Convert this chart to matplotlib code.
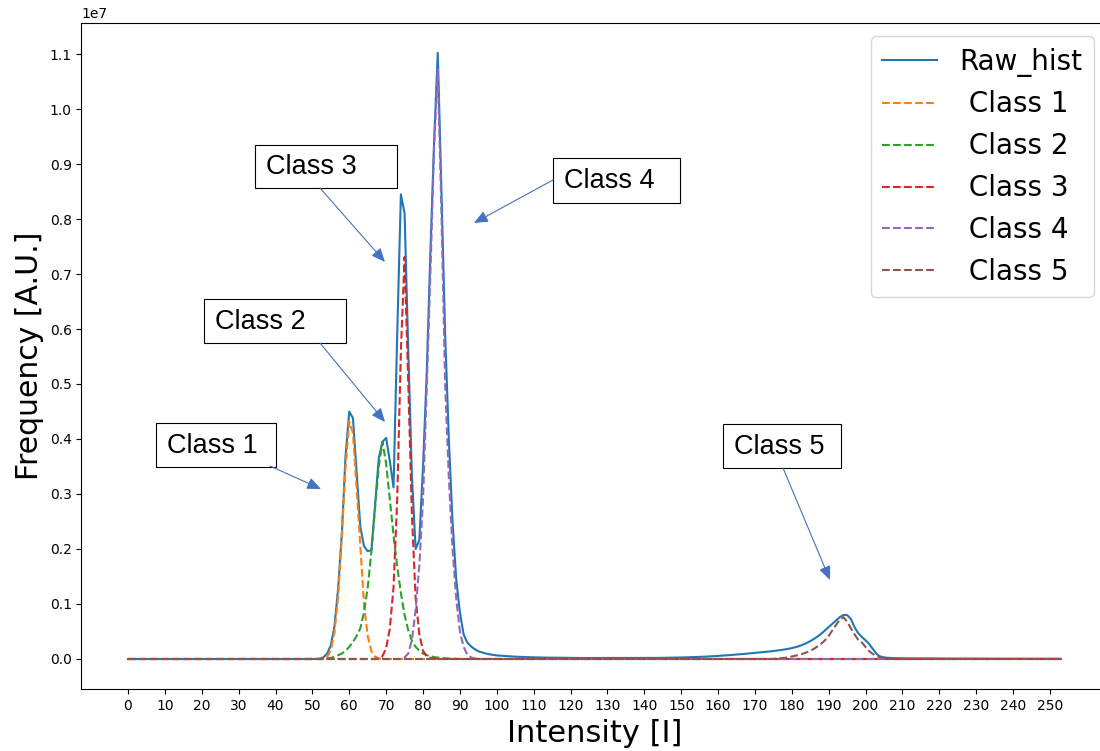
import numpy as np
import matplotlib
matplotlib.use("Agg")
import matplotlib.pyplot as plt
from matplotlib.patches import Rectangle, FancyArrowPatch

# ---------------- data (values in units of 1e6) ----------------
n_bins = 254
intensity = np.arange(n_bins)

raw_start = 50
raw_vals = [
    0.0, 0.0, 0.005, 0.03, 0.1, 0.25, 0.6, 1.3, 2.3, 3.7,          # 50-59
    4.50, 4.38, 3.4, 2.4, 2.05, 1.96, 1.98, 2.8, 3.65, 3.95,        # 60-69
    4.02, 3.6, 3.12, 5.9, 8.45, 8.10, 5.6, 3.3, 2.0, 2.16,          # 70-79
    3.5, 5.2, 7.4, 9.4, 11.02, 8.5, 5.9, 4.0, 2.5, 1.45,            # 80-89
    0.85, 0.45, 0.3, 0.23, 0.18, 0.14, 0.12, 0.1, 0.085, 0.075,     # 90-99
    0.065, 0.06, 0.055, 0.05, 0.046, 0.042, 0.039, 0.036, 0.034, 0.032,  # 100-109
    0.03, 0.028, 0.027, 0.026, 0.025, 0.024, 0.023, 0.022, 0.021, 0.02,  # 110-119
    0.02, 0.019, 0.019, 0.018, 0.018, 0.018, 0.017, 0.017, 0.017, 0.017,  # 120-129
    0.017, 0.017, 0.017, 0.017, 0.017, 0.017, 0.017, 0.017, 0.018, 0.018,  # 130-139
    0.018, 0.018, 0.019, 0.019, 0.02, 0.021, 0.022, 0.023, 0.024, 0.025,  # 140-149
    0.027, 0.029, 0.031, 0.033, 0.035, 0.038, 0.041, 0.044, 0.048, 0.052,  # 150-159
    0.056, 0.06, 0.065, 0.07, 0.075, 0.08, 0.086, 0.092, 0.099, 0.106,  # 160-169
    0.112, 0.118, 0.124, 0.13, 0.137, 0.145, 0.153, 0.162, 0.172, 0.184,  # 170-179
    0.198, 0.215, 0.235, 0.26, 0.29, 0.325, 0.365, 0.41, 0.46, 0.52,  # 180-189
    0.58, 0.64, 0.70, 0.76, 0.80, 0.80, 0.73, 0.58, 0.47, 0.40,     # 190-199
    0.34, 0.27, 0.18, 0.09, 0.045, 0.03, 0.022, 0.018, 0.015, 0.013,  # 200-209
    0.012, 0.011, 0.011, 0.01, 0.01, 0.01, 0.009, 0.009, 0.009, 0.008,  # 210-219
    0.008, 0.008, 0.008, 0.007, 0.007, 0.007, 0.007, 0.006, 0.006, 0.006,  # 220-229
    0.006, 0.006, 0.005, 0.005, 0.005, 0.005, 0.005, 0.005, 0.004, 0.004,  # 230-239
    0.004, 0.004, 0.004, 0.004, 0.004, 0.003, 0.003, 0.003, 0.003, 0.003,  # 240-249
    0.003, 0.003, 0.003, 0.003,                                     # 250-253
]

class1_start = 52
class1_vals = [0.0, 0.01, 0.04, 0.16, 0.49, 1.15, 2.25, 3.5, 4.32, 4.1,
               3.1, 2.05, 1.0, 0.42, 0.14, 0.04, 0.01]

class2_start = 54
class2_vals = [0.01, 0.02, 0.04, 0.07, 0.1, 0.15, 0.22, 0.31, 0.42, 0.56,
               0.85, 1.3, 1.95, 2.75, 3.5, 3.95, 3.55, 2.9, 2.25, 1.68,
               1.2, 0.8, 0.52, 0.33, 0.22, 0.15, 0.1, 0.07, 0.05, 0.035,
               0.025, 0.018, 0.012, 0.008, 0.005, 0.003, 0.002]

class3_start = 68
class3_vals = [0.01, 0.05, 0.2, 0.55, 1.3, 2.9, 5.6, 7.31, 5.0, 2.6,
               1.1, 0.45, 0.15, 0.05, 0.02, 0.01]

class4_start = 75
class4_vals = [0.03, 0.1, 0.35, 0.9, 1.7, 2.9, 4.9, 7.0, 9.3, 10.72,
               8.1, 5.0, 3.3, 2.0, 1.1, 0.5, 0.22, 0.08, 0.03, 0.01]

class5_start = 176
class5_vals = [0.01, 0.015, 0.02, 0.03, 0.045, 0.06, 0.075, 0.095, 0.12, 0.15,
               0.185, 0.23, 0.28, 0.34, 0.42, 0.52, 0.62, 0.71, 0.76, 0.68,
               0.56, 0.45, 0.35, 0.30, 0.22, 0.14, 0.09, 0.055, 0.03, 0.015,
               0.008, 0.004]

series_labels = ["Raw_hist", " Class 1", " Class 2", " Class 3", " Class 4", " Class 5"]
annot_labels = ["Class 1", "Class 2", "Class 3", "Class 4", "Class 5"]


def full(start, vals):
    arr = np.zeros(n_bins)
    arr[start:start + len(vals)] = vals
    return arr * 1e6


raw = full(raw_start, raw_vals)
classes = [full(class1_start, class1_vals), full(class2_start, class2_vals),
           full(class3_start, class3_vals), full(class4_start, class4_vals),
           full(class5_start, class5_vals)]

# ---------------- figure ----------------
W, H = 1100, 751
fig = plt.figure(figsize=(W / 100, H / 100), dpi=100)
ax = fig.add_axes([81.35 / W, 1 - 689.3 / H, 1026.3 / W, 666.7 / H])

ax.plot(intensity, raw, label=series_labels[0])
for c, lab in zip(classes, series_labels[1:]):
    ax.plot(intensity, c, "--", label=lab)

ax.set_xticks(np.arange(0, 251, 10))
ax.set_yticks(np.arange(0, 1.15e7, 1e6))
ax.set_xlabel("Intensity [I]", fontsize=22)
ax.set_ylabel("Frequency [A.U.]", fontsize=21.5)
ax.legend(loc="upper right", fontsize=20)

# ---------------- annotation boxes (figure pixel layout) ----------------
boxes = [(156, 423, 276, 467), (204, 299, 346, 343), (255, 145, 397, 188),
         (553, 158, 680, 203), (723, 424, 841, 468)]
arrows = [((270, 466), (321, 489)), ((320, 343), (385, 422)),
          ((320, 188), (385, 262)), ((553, 180), (474, 223)),
          ((783, 468), (830, 580))]


def fx(px):
    return px / W


def fy(py):
    return 1 - py / H


for lab, (x0, y0, x1, y1), (pa, pb) in zip(annot_labels, boxes, arrows):
    rect = Rectangle((fx(x0), fy(y1)), fx(x1) - fx(x0), fy(y0) - fy(y1),
                     transform=fig.transFigure, facecolor="white",
                     edgecolor="black", lw=0.8, zorder=5)
    fig.add_artist(rect)
    fig.text(fx(x0 + 11), fy((y0 + y1) / 2 + 1), lab, fontsize=19.5,
             family="Liberation Sans", va="center", ha="left", zorder=6)
    arr = FancyArrowPatch((fx(pa[0]), fy(pa[1])), (fx(pb[0]), fy(pb[1])),
                          transform=fig.transFigure,
                          arrowstyle="-|>,head_length=0.7,head_width=0.3",
                          mutation_scale=12, color="#4472C4", lw=0.8,
                          shrinkA=0, shrinkB=0, zorder=6)
    fig.add_artist(arr)

fig.savefig("out.png", dpi=100)
